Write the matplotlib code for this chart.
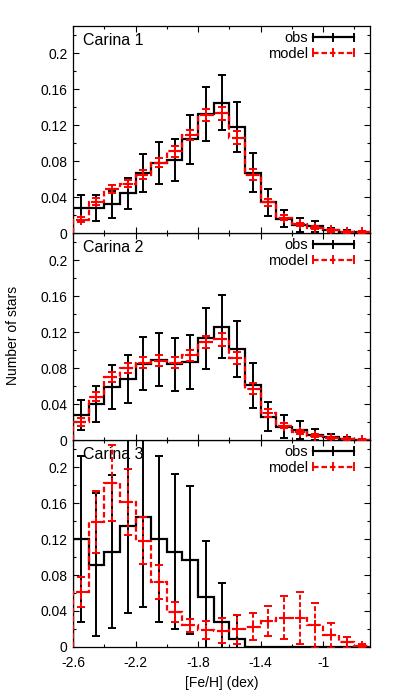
import numpy as np
import matplotlib
matplotlib.use("Agg")
import matplotlib.pyplot as plt
from matplotlib.lines import Line2D
from matplotlib.legend_handler import HandlerBase
from matplotlib.ticker import MultipleLocator, FuncFormatter, FixedLocator

plt.rcParams['font.family'] = ['Liberation Sans', 'DejaVu Sans']
plt.rcParams['axes.unicode_minus'] = False

# ---------------- data ----------------
fe_edges = [-2.6, -2.5, -2.4, -2.3, -2.2, -2.1, -2.0, -1.9, -1.8, -1.7,
            -1.6, -1.5, -1.4, -1.3, -1.2, -1.1, -1.0, -0.9, -0.8, -0.7]

panel_names = ["Carina 1", "Carina 2", "Carina 3"]

car1_obs = [0.028, 0.028, 0.032, 0.044, 0.067, 0.078, 0.081, 0.104, 0.132, 0.145,
            0.118, 0.067, 0.034, 0.016, 0.009, 0.0075, 0.003, 0.0015, 0.001]
car1_obs_err = [0.0145, 0.0145, 0.015, 0.0175, 0.021, 0.023, 0.0235, 0.027, 0.030, 0.031,
                0.028, 0.0215, 0.015, 0.0095, 0.008, 0.006, 0.003, 0.0015, 0.001]
car1_mod = [0.015, 0.035, 0.049, 0.055, 0.065, 0.078, 0.091, 0.109, 0.131, 0.133,
            0.106, 0.065, 0.034, 0.017, 0.0096, 0.006, 0.003, 0.0015, 0.001]
car1_mod_err = [0.003, 0.004, 0.004, 0.004, 0.005, 0.005, 0.006, 0.006, 0.007, 0.007,
                0.007, 0.006, 0.004, 0.003, 0.002, 0.002, 0.0015, 0.001, 0.001]

car2_obs = [0.028, 0.040, 0.0585, 0.068, 0.085, 0.089, 0.084, 0.087, 0.113, 0.126,
            0.101, 0.061, 0.026, 0.015, 0.011, 0.006, 0.003, 0.001, 0.0005]
car2_obs_err = [0.0165, 0.020, 0.0245, 0.0265, 0.0295, 0.0295, 0.029, 0.030, 0.034, 0.035,
                0.0315, 0.025, 0.016, 0.0125, 0.010, 0.006, 0.004, 0.002, 0.001]
car2_mod = [0.020, 0.048, 0.070, 0.080, 0.086, 0.088, 0.086, 0.094, 0.109, 0.112,
            0.091, 0.057, 0.030, 0.016, 0.009, 0.005, 0.002, 0.001, 0.0005]
car2_mod_err = [0.004, 0.005, 0.006, 0.006, 0.006, 0.006, 0.006, 0.006, 0.007, 0.007,
                0.007, 0.006, 0.004, 0.003, 0.002, 0.002, 0.001, 0.001, 0.001]

car3_obs = [0.120, 0.0916, 0.106, 0.135, 0.1445, 0.120, 0.106, 0.0965, 0.056, 0.0276,
            0.009, 0.0, 0.0, 0.0, 0.0, 0.0, 0.0, 0.0, 0.0]
car3_obs_err = [0.092, 0.079, 0.085, 0.097, 0.100, 0.092, 0.086, 0.082, 0.062, 0.0434,
                0.026, 0.0, 0.0, 0.0, 0.0, 0.0, 0.0, 0.0, 0.0]
car3_mod = [0.061, 0.139, 0.182, 0.161, 0.118, 0.072, 0.0385, 0.024, 0.019, 0.018,
            0.0197, 0.0227, 0.029, 0.0325, 0.032, 0.024, 0.013, 0.005, 0.0015]
car3_mod_err = [0.017, 0.034, 0.042, 0.037, 0.026, 0.019, 0.011, 0.007, 0.0097, 0.014,
                0.016, 0.015, 0.017, 0.024, 0.029, 0.025, 0.014, 0.006, 0.002]

obs_sets = [(car1_obs, car1_obs_err), (car2_obs, car2_obs_err), (car3_obs, car3_obs_err)]
mod_sets = [(car1_mod, car1_mod_err), (car2_mod, car2_mod_err), (car3_mod, car3_mod_err)]

x_ticks = [-2.6, -2.2, -1.8, -1.4, -1.0]

DASH = (2.5, 1.3)

# ---------------- legend handler ----------------
class ErrSampleHandler(HandlerBase):
    def __init__(self, color, dashed):
        super().__init__()
        self.color = color
        self.dashed = dashed

    def create_artists(self, legend, orig_handle, xdescent, ydescent, width,
                       height, fontsize, trans):
        y = height / 2.0 - ydescent
        x0 = -xdescent
        x1 = width - xdescent
        xm = (x0 + x1) / 2.0
        c = 2.6
        main = Line2D([x0, x1], [y, y], color=self.color, lw=1.6)
        if self.dashed:
            main.set_linestyle((0, DASH))
        arts = [main,
                Line2D([x0, x0], [y - c, y + c], color=self.color, lw=1.4),
                Line2D([x1, x1], [y - c, y + c], color=self.color, lw=1.4),
                Line2D([xm, xm], [y - c, y + c], color=self.color, lw=1.4)]
        for a in arts:
            a.set_transform(trans)
        return arts

# ---------------- figure ----------------
fig = plt.figure(figsize=(4.07, 6.99), dpi=100)
left, width = 0.1794, 0.7297
h = 0.2961
bottoms = [0.6666, 0.3705, 0.0744]

edges = np.array(fe_edges)
centers = 0.5 * (edges[:-1] + edges[1:])

axes = []
for i in range(3):
    ax = fig.add_axes([left, bottoms[i], width, h])
    axes.append(ax)
    ov, oe = obs_sets[i]
    mv, me = mod_sets[i]

    # observed
    ax.stairs(ov, edges, baseline=0, color='black', lw=1.6, zorder=3)
    ax.errorbar(centers, ov, yerr=oe, fmt='none', ecolor='black',
                elinewidth=1.4, capsize=2.8, capthick=1.4, zorder=3)

    # model
    sp = ax.stairs(mv, edges, baseline=0, color='red', lw=1.6, zorder=4)
    sp.set_linestyle((0, DASH))
    eb = ax.errorbar(centers, mv, yerr=me, fmt='+', color='red', ms=7, mew=1.4,
                     ecolor='red', elinewidth=1.4, capsize=2.8, capthick=1.4, zorder=4)
    for lc in eb[2]:
        lc.set_linestyle((0, DASH))

    ax.set_xlim(-2.6, -0.7)
    ax.set_ylim(0, 0.23)
    ax.xaxis.set_major_locator(FixedLocator(x_ticks))
    ax.xaxis.set_minor_locator(MultipleLocator(0.2))
    ax.yaxis.set_major_locator(MultipleLocator(0.04))
    ax.yaxis.set_minor_locator(MultipleLocator(0.02))
    ax.yaxis.set_major_formatter(FuncFormatter(lambda v, p: '%g' % round(v, 3)))
    ax.xaxis.set_major_formatter(FuncFormatter(lambda v, p: '%g' % round(v, 3)))
    ax.tick_params(which='both', direction='in', top=True, right=True,
                   labelsize=10, width=0.8, colors='black')
    ax.tick_params(which='major', length=4.5)
    ax.tick_params(which='minor', length=2.5)
    ax.tick_params(axis='y', which='major', pad=4)
    ax.tick_params(axis='x', which='major', pad=6.5)
    for s in ax.spines.values():
        s.set_linewidth(0.9)
    if i < 2:
        ax.tick_params(labelbottom=False)

    ax.text(0.034, 0.93, panel_names[i], transform=ax.transAxes,
            ha='left', va='center', fontsize=11.5)

    h_obs = Line2D([], [], color='black')
    h_mod = Line2D([], [], color='red')
    ax.legend([h_obs, h_mod], ['obs', 'model'],
              handler_map={h_obs: ErrSampleHandler('black', False),
                           h_mod: ErrSampleHandler('red', True)},
              loc='upper right', bbox_to_anchor=(0.945, 0.975), borderpad=0,
              borderaxespad=0, frameon=False, markerfirst=False, fontsize=10.5,
              handlelength=2.8, handletextpad=0.3, labelspacing=0.1)
    ax.set_zorder(10 - i)

axes[2].set_xlabel('[Fe/H] (dex)', fontsize=10, labelpad=4)
fig.text(0.032, 0.52, 'Number of stars', rotation=90, ha='center', va='center',
         fontsize=10)

fig.savefig('out.png', dpi=100)
